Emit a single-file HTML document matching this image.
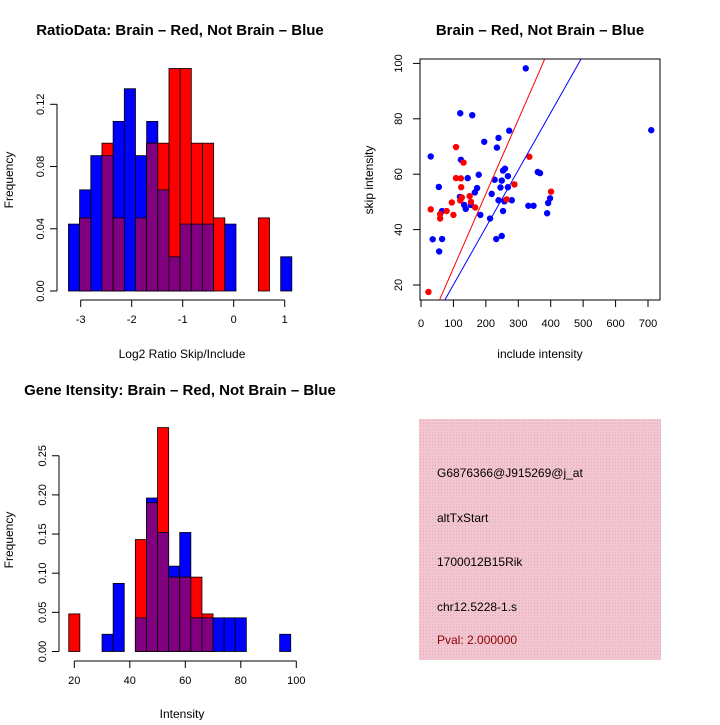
<!DOCTYPE html>
<html><head><meta charset="utf-8"><style>
body{margin:0;background:#fff}
svg text{font-family:"Liberation Sans",Arial,sans-serif;fill:#000}
</style></head><body>
<svg id="c" width="720" height="720" xmlns="http://www.w3.org/2000/svg">
<defs><pattern id="hatch" width="3" height="3" patternUnits="userSpaceOnUse"><rect width="3" height="3" fill="#f2c6d0"/><rect width="1" height="1" fill="#e8aab9"/></pattern></defs>
<text x="180" y="35" text-anchor="middle" font-size="15" font-weight="bold">RatioData: Brain – Red, Not Brain – Blue</text>
<text x="182" y="358" text-anchor="middle" font-size="12">Log2 Ratio Skip/Include</text>
<text transform="translate(13,180) rotate(-90)" text-anchor="middle" font-size="12">Frequency</text>
<text x="540" y="35" text-anchor="middle" font-size="15" font-weight="bold">Brain – Red, Not Brain – Blue</text>
<text x="540" y="358" text-anchor="middle" font-size="12">include intensity</text>
<text transform="translate(373,180) rotate(-90)" text-anchor="middle" font-size="12">skip intensity</text>
<text x="180" y="395" text-anchor="middle" font-size="15" font-weight="bold">Gene Itensity: Brain – Red, Not Brain – Blue</text>
<text x="182" y="718" text-anchor="middle" font-size="12">Intensity</text>
<text transform="translate(13,540) rotate(-90)" text-anchor="middle" font-size="12">Frequency</text>
<rect x="419" y="419" width="242" height="241" fill="url(#hatch)"/>
<g font-size="12">
<text x="437" y="477">G6876366@J915269@j_at</text>
<text x="437" y="522">altTxStart</text>
<text x="437" y="566">1700012B15Rik</text>
<text x="437" y="611">chr12.5228-1.s</text>
<text x="437" y="644" style="fill:#8b0000">Pval: 2.000000</text>
</g>
</svg>
<script>
const ratioBlue=[0.043,0.065,0.087,0.087,0.109,0.130,0.087,0.109,0.065,0.022,0.043,0.043,0.043,0,0.043,0,0,0,0,0.022];
const ratioRed=[0,0.047,0,0.095,0.047,0,0.047,0.095,0.095,0.143,0.143,0.095,0.095,0.047,0,0,0,0.047,0,0];
const ratioXTicks=[-3,-2,-1,0,1];
const ratioYTicks=[0,0.04,0.08,0.12];
const intBlue=[0,0,0,0.022,0.087,0,0.043,0.196,0.152,0.109,0.152,0.043,0.043,0.043,0.043,0.043,0,0,0,0.022];
const intRed=[0.048,0,0,0,0,0,0.143,0.190,0.286,0.095,0.095,0.095,0.048,0,0,0,0,0,0,0];
const intXTicks=[20,40,60,80,100];
const intYTicks=[0,0.05,0.10,0.15,0.20,0.25];
const blueX=[323,121,158,272,710,239,195,234,30,123,259,253,178,268,360,367,144,227,249,55,173,245,268,166,218,120,239,257,280,398,392,133,154,138,331,347,65,253,183,389,213,36,65,232,249,56];
const blueY=[98.2,82,81.3,75.7,75.9,73.1,71.7,69.6,66.4,65.2,62,61.3,59.8,59.3,60.8,60.4,58.6,58,57.7,55.4,55,55.2,55.3,53.4,52.9,51.8,50.6,50.2,50.6,51.3,49.6,48.9,48.9,47.5,48.6,48.6,46.7,46.7,45.3,45.9,44,36.5,36.6,36.6,37.7,32.1];
const redX=[108,334,131,108,123,124,288,401,150,126,121,154,95,167,264,30,79,59,59,100,23];
const redY=[69.8,66.3,64.2,58.6,58.5,55.3,56.3,53.7,52.1,51.6,50.5,50,49.8,48,50.9,47.3,46.7,45.6,44,45.3,17.5];
const scXTicks=[0,100,200,300,400,500,600,700];
const scYTicks=[20,40,60,80,100];
const redFit=[-0.7,0.268];
const blueFit=[-0.6,0.207];

const svg=document.getElementById('c');
const NS='http://www.w3.org/2000/svg';
function mk(t,a,p){const e=document.createElementNS(NS,t);for(const k in a)e.setAttribute(k,a[k]);(p||svg).appendChild(e);return e;}

function hist(name,blue,red,x0,bw,xs,ys,base,xTicks,yTicks,yFmt,axisX,axisY){
  const g=mk('g',{});
  
  
  for(let i=0;i<blue.length;i++){
    const l=xs(x0+i*bw),r=xs(x0+(i+1)*bw);
    const b=blue[i],rd=red[i],m=Math.min(b,rd);
    if(b>0){const e=mk('rect',{x:l,y:ys(b),width:r-l,height:base-ys(b),fill:'#0000ff',stroke:'#000','stroke-width':0.8},g);
      
      }
    if(rd>0){const e=mk('rect',{x:l,y:ys(rd),width:r-l,height:base-ys(rd),fill:'#ff0000',stroke:'#000','stroke-width':0.8},g);
      
      }
    if(m>0){const e=mk('rect',{x:l,y:ys(m),width:r-l,height:base-ys(m),fill:'#800080',stroke:'#000','stroke-width':0.8},g);
      
      }
  }
  const ax=mk('g',{stroke:'#000','stroke-width':1,fill:'none'});
  
  
  mk('line',{x1:xs(xTicks[0]),x2:xs(xTicks[xTicks.length-1]),y1:axisY,y2:axisY},ax);
  xTicks.forEach(v=>{mk('line',{x1:xs(v),x2:xs(v),y1:axisY,y2:axisY+7},ax);
    const t=mk('text',{x:xs(v),y:axisY+23,'text-anchor':'middle','font-size':11});t.textContent=v;
    
    });
  mk('line',{x1:axisX,x2:axisX,y1:ys(yTicks[0]),y2:ys(yTicks[yTicks.length-1])},ax);
  yTicks.forEach(v=>{mk('line',{x1:axisX,x2:axisX-7,y1:ys(v),y2:ys(v)},ax);
    const t=mk('text',{transform:`translate(${axisX-13},${ys(v)}) rotate(-90)`,'text-anchor':'middle','font-size':11});t.textContent=v.toFixed(yFmt);
    
    });
}
hist('ratio',ratioBlue,ratioRed,-3.24,0.219,v=>233.7+v*51,v=>291-v*1556,291,ratioXTicks,ratioYTicks,2,57,300);
hist('intensity',intBlue,intRed,18,4,v=>74.3+(v-20)*2.775,v=>651.5-v*783,651.5,intXTicks,intYTicks,2,59,661);

const sx=v=>421+v*0.3243, sy=v=>285-(v-20)*2.77;
const sg=mk('g',{});


const box=mk('rect',{x:420,y:59,width:240,height:241,fill:'none',stroke:'#000'},sg);


scXTicks.forEach(v=>{mk('line',{x1:sx(v),x2:sx(v),y1:300,y2:307,stroke:'#000'},sg);
  const t=mk('text',{x:sx(v),y:327,'text-anchor':'middle','font-size':11},sg);t.textContent=v;
  
  });
scYTicks.forEach(v=>{mk('line',{x1:420,x2:413,y1:sy(v),y2:sy(v),stroke:'#000'},sg);
  const t=mk('text',{transform:`translate(402,${sy(v)}) rotate(-90)`,'text-anchor':'middle','font-size':11},sg);t.textContent=v;
  
  });
const clip=mk('clipPath',{id:'sc'});mk('rect',{x:420,y:59,width:240,height:241},clip);
blueX.forEach((v,i)=>{const c=mk('circle',{cx:sx(v),cy:sy(blueY[i]),r:3.2,fill:'#0000ff'},sg);
  
  });
redX.forEach((v,i)=>{const c=mk('circle',{cx:sx(v),cy:sy(redY[i]),r:3.2,fill:'#ff0000'},sg);
  
  });
[[redFit,'#ff0000','red-fit-line'],[blueFit,'#0000ff','blue-fit-line']].forEach(([f,col,n])=>{
  const l=mk('line',{x1:sx(0),y1:sy(f[0]),x2:sx(800),y2:sy(f[0]+f[1]*800),stroke:col,'stroke-width':1,'clip-path':'url(#sc)'},sg);
  
  });
</script>
</body></html>
